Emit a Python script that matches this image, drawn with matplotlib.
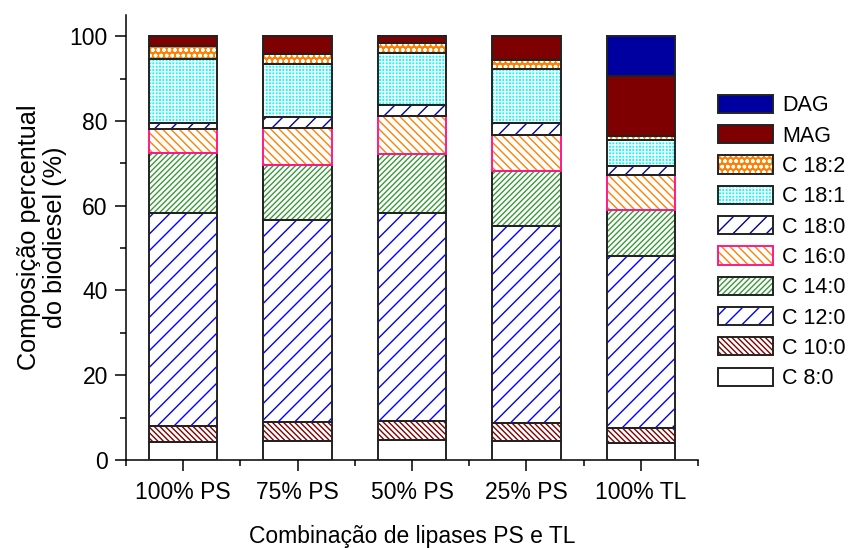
import numpy as np
import matplotlib
matplotlib.use("Agg")
import matplotlib.pyplot as plt
from matplotlib.patches import Patch
from matplotlib.ticker import MultipleLocator, FixedLocator

plt.rcParams.update({
    "font.family": ["Liberation Sans", "DejaVu Sans"],
    "hatch.linewidth": 1.0,
})

# lipase combinations (x categories)
combos = ["100% PS", "75% PS", "50% PS", "25% PS", "100% TL"]

# composition (%) per component, stacked bottom -> top
c8_0  = [4.3, 4.5, 4.6, 4.5, 3.9]
c10_0 = [3.8, 4.4, 4.7, 4.3, 3.7]
c12_0 = [50.2, 47.7, 48.9, 46.4, 40.5]
c14_0 = [14.1, 13.1, 13.9, 13.1, 11.0]
c16_0 = [5.8, 8.7, 9.1, 8.4, 8.2]
c18_0 = [1.3, 2.5, 2.5, 2.9, 2.0]
c18_1 = [15.1, 12.6, 12.4, 12.6, 6.2]
c18_2 = [3.1, 2.2, 2.4, 2.2, 0.9]
mag   = [2.3, 4.3, 1.5, 5.6, 14.2]
dag   = [0.0, 0.0, 0.0, 0.0, 9.4]

# name, values, fill, hatch colour, hatch, edge colour
series = [
    ("C 8:0",  c8_0,  "white",   "black",   "",             "#222222"),
    ("C 10:0", c10_0, "white",   "#800000", "\\" * 6,       "#222222"),
    ("C 12:0", c12_0, "white",   "#0000FF", "//",           "#222222"),
    ("C 14:0", c14_0, "white",   "#3A9A3A", "/" * 6,        "#222222"),
    ("C 16:0", c16_0, "white",   "#FF8000", "\\" * 4,       "#FF1A8C"),
    ("C 18:0", c18_0, "white",   "#0000A0", "//",           "#222222"),
    ("C 18:1", c18_1, "#00FFFF", "white",   "+" * 5,        "#222222"),
    ("C 18:2", c18_2, "#FF8000", "white",   "ooo",          "#222222"),
    ("MAG",    mag,   "#7F0000", "#7F0000", "",             "#222222"),
    ("DAG",    dag,   "#0000A0", "#0000A0", "",             "#222222"),
]

fig = plt.figure(figsize=(8.56, 5.48), dpi=100)
ax = fig.add_axes([0.147, 0.1606, 0.6685, 0.812])

x = np.arange(1, len(combos) + 1)
width = 0.6
bottom = np.zeros(len(combos))
handles, labels = [], []
for name, vals, fill, hcol, hatch, ecol in series:
    vals = np.array(vals)
    # fill + coloured hatch first, then the outline on top
    ax.bar(x, vals, width, bottom=bottom, color=fill, edgecolor=hcol,
           hatch=hatch, linewidth=0, zorder=2)
    ax.bar(x, vals, width, bottom=bottom, fill=False, edgecolor=ecol,
           linewidth=1.4, zorder=3)
    bottom += vals
    h = (Patch(facecolor=fill, edgecolor=hcol, hatch=hatch, linewidth=0),
         Patch(fill=False, edgecolor=ecol, linewidth=1.4))
    handles.append(h)
    labels.append(name)

ax.set_xlim(0.5, len(combos) + 0.5)
ax.set_ylim(0, 105)
ax.set_xticks(x)
ax.set_xticklabels(combos)
ax.xaxis.set_minor_locator(FixedLocator(np.arange(0.5, len(combos) + 1, 1.0)))
ax.yaxis.set_major_locator(MultipleLocator(20))
ax.yaxis.set_minor_locator(MultipleLocator(10))
ax.tick_params(which="major", length=8, width=1.1, labelsize=16.5,
               direction="out", pad=5)
ax.tick_params(which="minor", length=4.5, width=1.1, direction="out")
ax.tick_params(axis="x", which="major", pad=7)

for side in ("top", "right"):
    ax.spines[side].set_visible(False)
for side in ("left", "bottom"):
    ax.spines[side].set_linewidth(1.1)

ax.set_xlabel("Combinação de lipases PS e TL", fontsize=16.5, labelpad=15)
ax.set_ylabel("Composição percentual\ndo biodiesel (%)", fontsize=18.2,
              linespacing=1.1, labelpad=2)

ax.legend(handles[::-1], labels[::-1], loc="upper left",
          bbox_to_anchor=(0.839, 0.827), bbox_transform=fig.transFigure,
          frameon=False, fontsize=15.5, handlelength=2.55, handleheight=0.92,
          labelspacing=0.41, handletextpad=0.42, borderpad=0,
          borderaxespad=0)

fig.savefig("out.png", dpi=100)
